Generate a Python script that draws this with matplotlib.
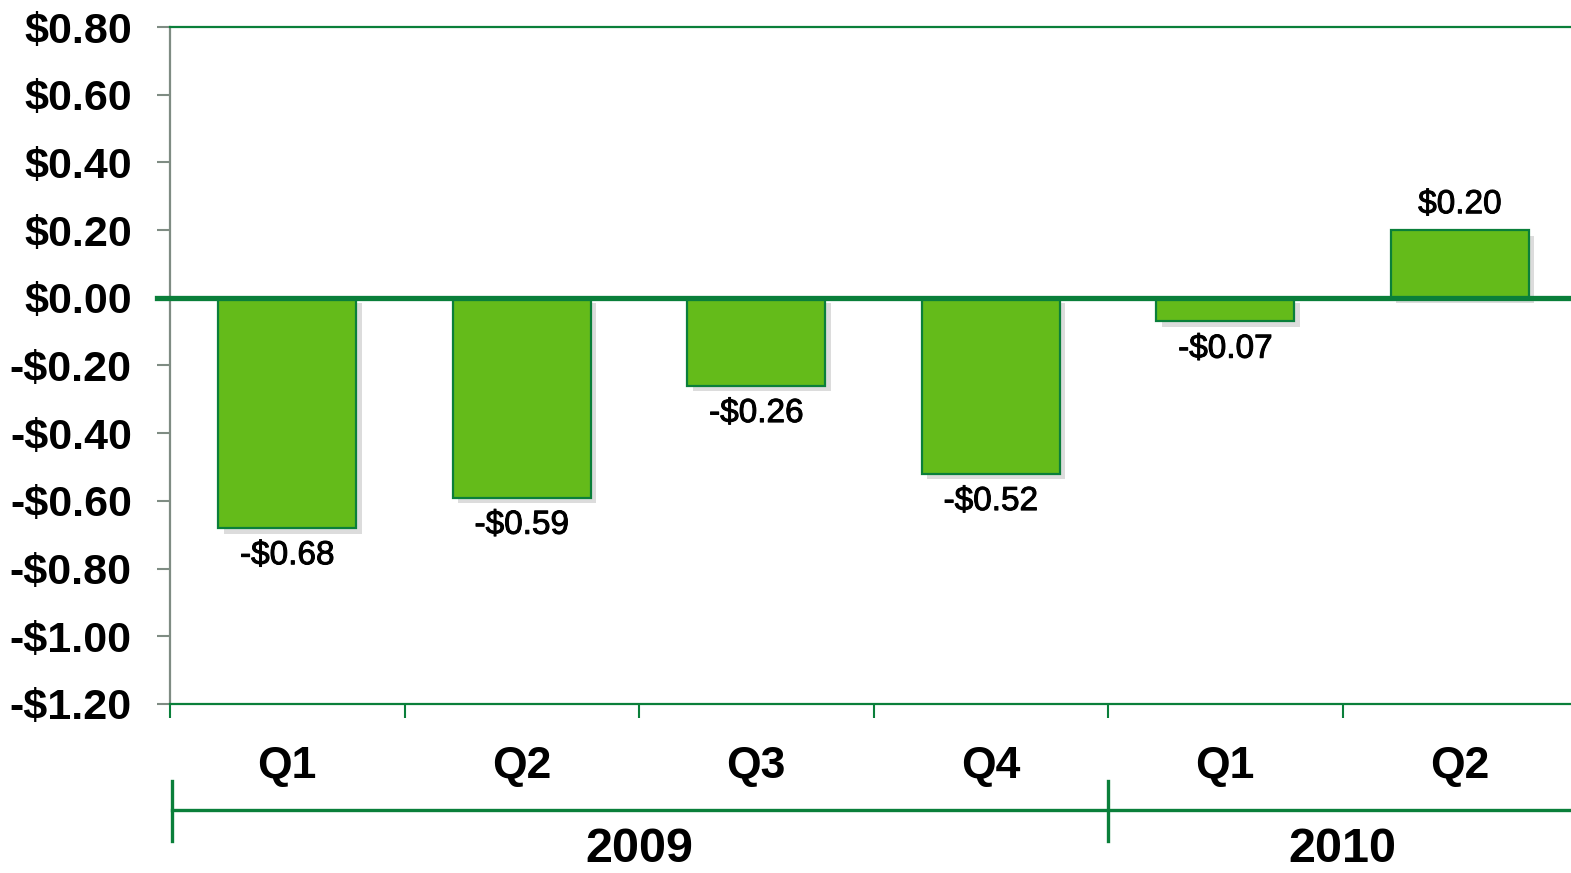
import matplotlib
matplotlib.use("Agg")
import matplotlib.pyplot as plt
import matplotlib.patheffects as pe
import matplotlib.transforms as mtransforms

quarters = ["Q1", "Q2", "Q3", "Q4", "Q1", "Q2"]
years = ["2009", "2010"]
year_spans = [(0, 3), (4, 5)]
eps = [-0.68, -0.59, -0.26, -0.52, -0.07, 0.20]
y_ticks = [0.8, 0.6, 0.4, 0.2, 0.0, -0.2, -0.4, -0.6, -0.8, -1.0, -1.2]

green = "#0a7f3a"
bar_green = "#64bb1a"
gray = "#7f8c83"

plt.rcParams["font.family"] = ["Liberation Sans", "DejaVu Sans"]

fig = plt.figure(figsize=(15.71, 8.73), dpi=100)
ax = fig.add_axes([170 / 1571, 169 / 873, 1407 / 1571, 677 / 873])

x = list(range(len(eps)))
bars = ax.bar(x, eps, width=0.59, color=bar_green, edgecolor=green, linewidth=1.6, zorder=3)
for b in bars:
    b.set_path_effects([pe.SimplePatchShadow(offset=(4, -4), shadow_rgbFace="#a8a8a8", alpha=0.4),
                        pe.Normal()])

ax.set_xlim(-0.5, len(eps) - 0.5)
ax.set_ylim(-1.2, 0.8)

# zero line
ax.axhline(0, xmin=-0.0092, xmax=1, color=green, lw=3.8, zorder=4, clip_on=False)

# data labels
for xi, v in zip(x, eps):
    lab = ("-$%.2f" % abs(v)) if v < 0 else ("$%.2f" % v)
    off = -0.082 if v < 0 else 0.075
    ax.text(xi, v + off, lab, ha="center", va="center", fontsize=24, color="black",
            path_effects=[pe.withStroke(linewidth=0.7, foreground="black")])

# y axis
ax.set_yticks(y_ticks)
ax.set_yticklabels([("-$%.2f" % abs(t)) if t < 0 else ("$%.2f" % t) for t in y_ticks],
                   fontsize=31, fontweight="bold")
ax.tick_params(axis="y", direction="out", length=9.5, width=1.5, color=gray, pad=18)

# x axis ticks at category boundaries
ax.set_xticks([i - 0.5 for i in range(len(eps) + 1)])
ax.set_xticklabels([])
ax.tick_params(axis="x", direction="out", length=10, width=1.5, color=green)

for s in ["top", "bottom"]:
    ax.spines[s].set_color(green)
    ax.spines[s].set_linewidth(1.6)
ax.spines["left"].set_color(gray)
ax.spines["left"].set_linewidth(1.6)
ax.spines["right"].set_visible(False)

trans = mtransforms.blended_transform_factory(ax.transData, ax.transAxes)
for xi, q in zip(x, quarters):
    ax.text(xi, -0.093, q, transform=trans, ha="center", va="center",
            fontsize=32, fontweight="bold")

# year grouping line
ax.plot([-0.49, len(eps) - 0.5], [-0.1566, -0.1566], transform=trans, color=green,
        lw=2.4, clip_on=False)
for bx in [-0.49, 3.5]:
    ax.plot([bx, bx], [-0.1137, -0.2024], transform=trans, color=green, lw=2.4, clip_on=False)
for yr, (a, b) in zip(years, year_spans):
    ax.text((a + b) / 2, -0.2334, yr, transform=trans, ha="center", va="baseline",
            fontsize=35, fontweight="bold")

fig.savefig("out.png", dpi=100)
